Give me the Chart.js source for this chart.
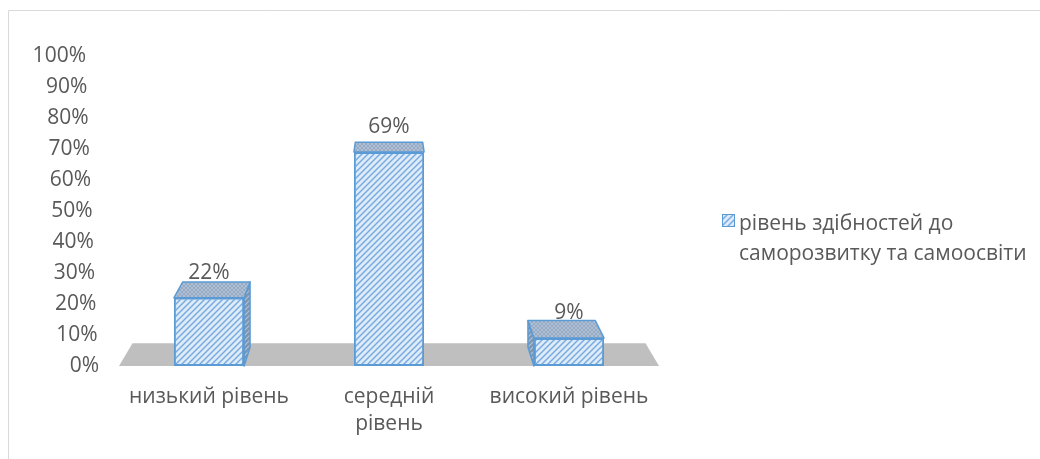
<!DOCTYPE html>
<html>
<head>
<meta charset="utf-8">
<script src="https://cdn.jsdelivr.net/npm/chart.js@4/dist/chart.umd.min.js"></script>
<style>
  html, body { margin: 0; padding: 0; background: #ffffff; }
  canvas { display: block; }
</style>
</head>
<body>
<canvas id="c" width="1040" height="459"></canvas>
<script>
// Categories, values and tick labels
const categories = ['низький рівень', ['середній', 'рівень'], 'високий рівень'];
const values = [22, 69, 9];
const seriesName = ['рівень здібностей до', 'саморозвитку та самоосвіти'];
const yTicks = [0, 10, 20, 30, 40, 50, 60, 70, 80, 90, 100];

const FONT = '"Open Sans"';
const FONT_SIZE = 21;
const TEXT = '#595959';
const EDGE = '#5b9bd5';

const canvas = document.getElementById('c');
const ctx = canvas.getContext('2d');

// Hatch fills for the bar faces
function hatch(bg, fg, size, lw, cross) {
  const c = document.createElement('canvas');
  c.width = c.height = size;
  const g = c.getContext('2d');
  g.fillStyle = bg;
  g.fillRect(0, 0, size, size);
  g.strokeStyle = fg;
  g.lineWidth = lw;
  g.beginPath();
  g.moveTo(0, size); g.lineTo(size, 0);
  g.moveTo(-size / 2, size / 2); g.lineTo(size / 2, -size / 2);
  g.moveTo(size / 2, size * 1.5); g.lineTo(size * 1.5, size / 2);
  if (cross) {
    g.moveTo(0, 0); g.lineTo(size, size);
    g.moveTo(-size / 2, size / 2); g.lineTo(size / 2, size * 1.5);
    g.moveTo(size / 2, -size / 2); g.lineTo(size * 1.5, size / 2);
  }
  g.stroke();
  return ctx.createPattern(c, 'repeat');
}

const frontFill = hatch('#deebf9', '#7aabe0', 6, 1.5, false);
const topFill = hatch('#9daab9', '#a9c3e2', 4, 0.9, true);
const sideFill = hatch('#7f94ad', '#a9c2de', 5, 1.2, false);

// Simple perspective: points recede towards a vanishing point above the plot
const DEPTH = 0.041;
const FLOOR_DEPTH = 0.05;
function vanish(area) {
  return { x: (area.left + area.right) / 2, y: area.top - 145 };
}
function project(p, v, k) {
  return { x: p.x + k * (v.x - p.x), y: p.y + k * (v.y - p.y) };
}
function poly(pts, fill, stroke) {
  ctx.beginPath();
  ctx.moveTo(pts[0].x, pts[0].y);
  for (let i = 1; i < pts.length; i++) ctx.lineTo(pts[i].x, pts[i].y);
  ctx.closePath();
  ctx.fillStyle = fill;
  ctx.fill();
  if (stroke) {
    ctx.strokeStyle = stroke;
    ctx.lineWidth = 1.5;
    ctx.lineJoin = 'round';
    ctx.stroke();
  }
}

const box3d = {
  id: 'box3d',
  beforeDatasetsDraw(chart) {
    const area = chart.chartArea;
    const v = vanish(area);
    const base = chart.scales.y.getPixelForValue(0);
    const c = chart.ctx;
    c.save();
    // floor
    const fl = { x: area.left, y: base }, fr = { x: area.right, y: base };
    poly([fl, fr, project(fr, v, FLOOR_DEPTH), project(fl, v, FLOOR_DEPTH)], '#bfbfbf');
    // top and side faces of each bar
    chart.getDatasetMeta(0).data.forEach((bar) => {
      const p = bar.getProps(['x', 'y', 'base', 'width'], true);
      const L = p.x - p.width / 2, R = p.x + p.width / 2, T = p.y, B = p.base;
      const lt = { x: L, y: T }, rt = { x: R, y: T }, lb = { x: L, y: B }, rb = { x: R, y: B };
      if (p.x < v.x - 1) {
        poly([rt, project(rt, v, DEPTH), project(rb, v, DEPTH), rb], sideFill, EDGE);
      } else if (p.x > v.x + 1) {
        poly([lt, project(lt, v, DEPTH), project(lb, v, DEPTH), lb], sideFill, EDGE);
      }
      poly([lt, rt, project(rt, v, DEPTH), project(lt, v, DEPTH)], topFill, EDGE);
    });
    c.restore();
  },
  afterDatasetsDraw(chart) {
    const c = chart.ctx;
    c.save();
    c.font = FONT_SIZE + 'px ' + FONT;
    c.fillStyle = TEXT;
    c.textAlign = 'center';
    c.textBaseline = 'alphabetic';
    chart.getDatasetMeta(0).data.forEach((bar, i) => {
      c.fillText(values[i] + '%', bar.x, bar.y - 19);
    });
    c.restore();
  },
  afterDraw(chart) {
    const c = chart.ctx;
    const y = chart.scales.y;
    c.save();
    c.font = FONT_SIZE + 'px ' + FONT;
    c.fillStyle = TEXT;
    c.textBaseline = 'middle';
    c.textAlign = 'right';
    // value axis labels follow the slanted side wall
    yTicks.forEach((t) => {
      c.fillText(t + '%', 99 - 13 * (t / 100), y.getPixelForValue(t));
    });
    // legend
    c.fillStyle = frontFill;
    c.fillRect(722, 214, 13, 13);
    c.strokeStyle = EDGE;
    c.lineWidth = 1;
    c.strokeRect(722.5, 214.5, 12, 12);
    c.fillStyle = TEXT;
    c.textAlign = 'left';
    seriesName.forEach((line, i) => c.fillText(line, 739, 224 + i * 30));
    // chart frame
    c.strokeStyle = '#d9d9d9';
    c.lineWidth = 1;
    c.beginPath();
    c.moveTo(8.5, 459);
    c.lineTo(8.5, 10.5);
    c.lineTo(1040, 10.5);
    c.stroke();
    c.restore();
  }
};

new Chart(canvas, {
  type: 'bar',
  data: {
    labels: categories,
    datasets: [{
      label: seriesName.join(' '),
      data: values,
      backgroundColor: frontFill,
      borderColor: EDGE,
      borderWidth: 2,
      borderSkipped: false,
      categoryPercentage: 1,
      barPercentage: 0.39
    }]
  },
  options: {
    responsive: false,
    animation: false,
    layout: { padding: { left: 119, top: 56, right: 381, bottom: 13 } },
    plugins: { legend: { display: false }, tooltip: { enabled: false } },
    scales: {
      x: {
        grid: { display: false, drawTicks: false },
        border: { display: false },
        ticks: {
          color: TEXT,
          font: { family: 'Open Sans', size: FONT_SIZE, lineHeight: 1.29 },
          padding: 17,
          maxRotation: 0,
          autoSkip: false
        },
        afterFit(scale) { scale.height = 80; }
      },
      y: {
        display: false,
        min: 0,
        max: 100
      }
    }
  },
  plugins: [box3d]
});
</script>
</body>
</html>
